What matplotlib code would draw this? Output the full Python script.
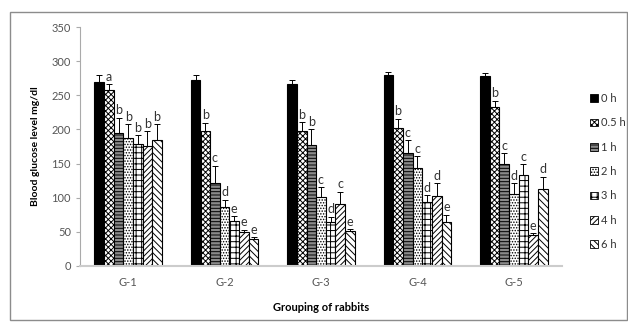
import numpy as np
import matplotlib.pyplot as plt
from matplotlib.patches import Patch, Rectangle

plt.rcParams['font.family'] = ['Lato', 'DejaVu Sans']
plt.rcParams['hatch.linewidth'] = 0.7

# 数据
groups = ['G-1', 'G-2', 'G-3', 'G-4', 'G-5']
times = ['0 h', '0.5 h', '1 h', '2 h', '3 h', '4 h', '6 h']
means = np.array([
    [270, 273, 267, 280, 278],   # 0 h
    [258, 198, 198, 202, 233],   # 0.5 h
    [195, 121, 177, 166, 149],   # 1 h
    [188, 87, 101, 144, 105],    # 2 h
    [179, 66, 64, 93, 133],      # 3 h
    [176, 50, 91, 102, 46],      # 4 h
    [184, 40, 51, 64, 113],      # 6 h
])
errs = np.array([
    [10, 6, 5, 4, 5],
    [8, 12, 13, 14, 9],
    [22, 26, 23, 18, 16],
    [20, 10, 14, 17, 16],
    [13, 7, 8, 11, 16],
    [21, 3, 18, 19, 2],
    [24, 2, 3, 11, 18],
])
letters = [
    ['', '', '', '', ''],
    ['a', 'b', 'b', 'b', 'b'],
    ['b', 'c', 'b', 'c', 'c'],
    ['b', 'd', 'c', 'c', 'd'],
    ['b', 'e', 'd', 'd', 'c'],
    ['b', 'e', 'c', 'd', 'e'],
    ['b', 'e', 'e', 'e', 'd'],
]

# 样式
faces = ['black', 'white', '#8a8a8a', 'white', 'white', 'white', 'white']
hatches = [None, 'xxxxxx', '-----', '......', '+++', '//////', '\\\\\\\\\\']

fig = plt.figure(figsize=(6.28, 3.22), dpi=100)
fig.patches.append(Rectangle((10 / 628, 0.005), 617 / 628, 1 - 12 / 322 - 0.005,
                             transform=fig.transFigure, fill=False,
                             edgecolor='#8c8c8c', linewidth=1.0))
ax = fig.add_axes([80 / 628, 56 / 322, 482 / 628, 239 / 322])

x = np.arange(len(groups))
w = 0.1
for j, t in enumerate(times):
    pos = x + (j - 3) * w
    ax.bar(pos, means[j], w, color=faces[j], edgecolor='black', hatch=hatches[j],
           linewidth=0.8, zorder=2)
    ax.errorbar(pos, means[j], yerr=[np.zeros(len(groups)), errs[j]], fmt='none',
                ecolor='black', elinewidth=0.7, capsize=2.5, capthick=0.7, zorder=3)
    for i in range(len(groups)):
        if letters[j][i]:
            ax.text(pos[i], means[j][i] + errs[j][i] + 2, letters[j][i],
                    ha='center', va='bottom', fontsize=9, color='#333333')

ax.set_xlim(-0.5, 4.5)
ax.set_ylim(0, 350)
ax.set_yticks(range(0, 351, 50))
ax.set_xticks(x)
ax.set_xticklabels(groups)
ax.tick_params(axis='x', length=0, labelsize=8, colors='#555555', pad=8)
ax.tick_params(axis='y', length=3, labelsize=8, colors='#555555', direction='out')
ax.tick_params(axis='y', color='#aaaaaa')
for s in ['top', 'right']:
    ax.spines[s].set_visible(False)
ax.spines['left'].set_color('#aaaaaa')
ax.spines['bottom'].set_color('#cccccc')
ax.spines['bottom'].set_linewidth(1.5)

ax.set_ylabel('Blood glucose level mg/dl', fontsize=7.5, fontweight='bold', labelpad=8)
ax.set_xlabel('Grouping of rabbits', fontsize=8, fontweight='bold', labelpad=10)

handles = [Patch(facecolor=faces[j], edgecolor='black', hatch=hatches[j], linewidth=0.6)
           for j in range(len(times))]
fig.legend(handles, times, loc='upper left', bbox_to_anchor=(580 / 628, 1 - 83 / 322),
           frameon=False, fontsize=8, handlelength=0.7, handleheight=0.7,
           handletextpad=0.3, labelspacing=1.2, labelcolor='#333333')

plt.savefig('out.png', dpi=100)
plt.close()
